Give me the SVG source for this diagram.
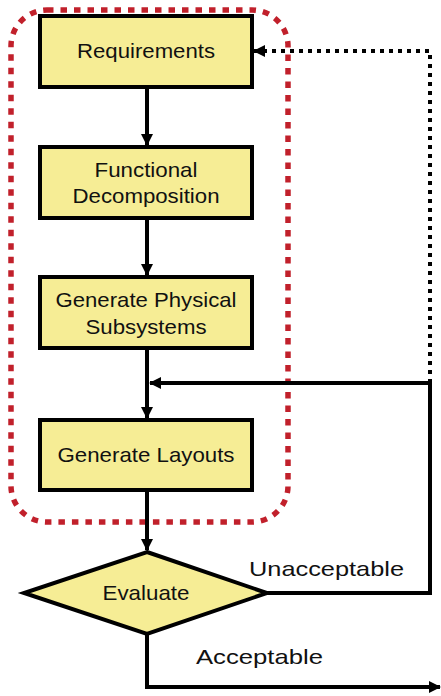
<svg xmlns="http://www.w3.org/2000/svg" width="441" height="696" viewBox="0 0 441 696">
<style>
.box{fill:#f6ed95;stroke:#000;stroke-width:4}
.t{font-family:"Liberation Sans",Arial,sans-serif;font-size:21px;fill:#111}
.ln{fill:none;stroke:#000;stroke-width:4}
.dot{fill:none;stroke:#000;stroke-width:4;stroke-dasharray:4 5}
.red{fill:none;stroke:#c1202b;stroke-width:5.5;stroke-dasharray:6.5 7}
</style>
<defs>
<marker id="ah" viewBox="0 0 12 12" refX="11" refY="6" markerWidth="12" markerHeight="12" markerUnits="userSpaceOnUse" orient="auto">
<path d="M0,0 L12,6 L0,12 Z" fill="#000"/>
</marker>
</defs>
<rect id="group" class="red" x="11" y="10" width="277" height="512" rx="36" ry="36"/>
<g id="connectors">
<line class="ln" x1="147" y1="87" x2="147" y2="145" marker-end="url(#ah)"/>
<line class="ln" x1="147" y1="218" x2="147" y2="275" marker-end="url(#ah)"/>
<line class="ln" x1="147" y1="348" x2="147" y2="418" marker-end="url(#ah)"/>
<line class="ln" x1="147" y1="490" x2="147" y2="550" marker-end="url(#ah)"/>
<polyline class="ln" points="267,593 430,593 430,383"/>
<line class="ln" x1="430" y1="383" x2="150" y2="383" marker-end="url(#ah)"/>
<polyline class="dot" points="430,383 430,51 266,51"/>
<line class="ln" x1="266" y1="51" x2="254" y2="51" marker-end="url(#ah)" stroke-width="0.1"/>
<polyline class="ln" points="147,634 147,687 440,687" marker-end="url(#ah)"/>
</g>
<g id="requirements">
<rect class="box" x="40" y="16" width="212" height="71"/>
<text class="t" x="146" y="58" text-anchor="middle" textLength="138" lengthAdjust="spacingAndGlyphs">Requirements</text>
</g>
<g id="functional">
<rect class="box" x="40" y="147" width="212" height="71"/>
<text class="t" x="146" y="177" text-anchor="middle" textLength="103" lengthAdjust="spacingAndGlyphs">Functional</text>
<text class="t" x="146" y="203" text-anchor="middle" textLength="147" lengthAdjust="spacingAndGlyphs">Decomposition</text>
</g>
<g id="physical">
<rect class="box" x="40" y="277" width="212" height="71"/>
<text class="t" x="146" y="307" text-anchor="middle" textLength="181" lengthAdjust="spacingAndGlyphs">Generate Physical</text>
<text class="t" x="146" y="334" text-anchor="middle" textLength="121" lengthAdjust="spacingAndGlyphs">Subsystems</text>
</g>
<g id="layouts">
<rect class="box" x="40" y="420" width="212" height="70"/>
<text class="t" x="146" y="462" text-anchor="middle" textLength="177" lengthAdjust="spacingAndGlyphs">Generate Layouts</text>
</g>
<g id="evaluate">
<polygon class="box" points="147,552 267,593 147,634 24,593"/>
<text class="t" x="146" y="600" text-anchor="middle" textLength="87" lengthAdjust="spacingAndGlyphs">Evaluate</text>
</g>
<g id="labels">
<text class="t" x="249" y="576" textLength="155" lengthAdjust="spacingAndGlyphs">Unacceptable</text>
<text class="t" x="196" y="664" textLength="127" lengthAdjust="spacingAndGlyphs">Acceptable</text>
</g>
</svg>
